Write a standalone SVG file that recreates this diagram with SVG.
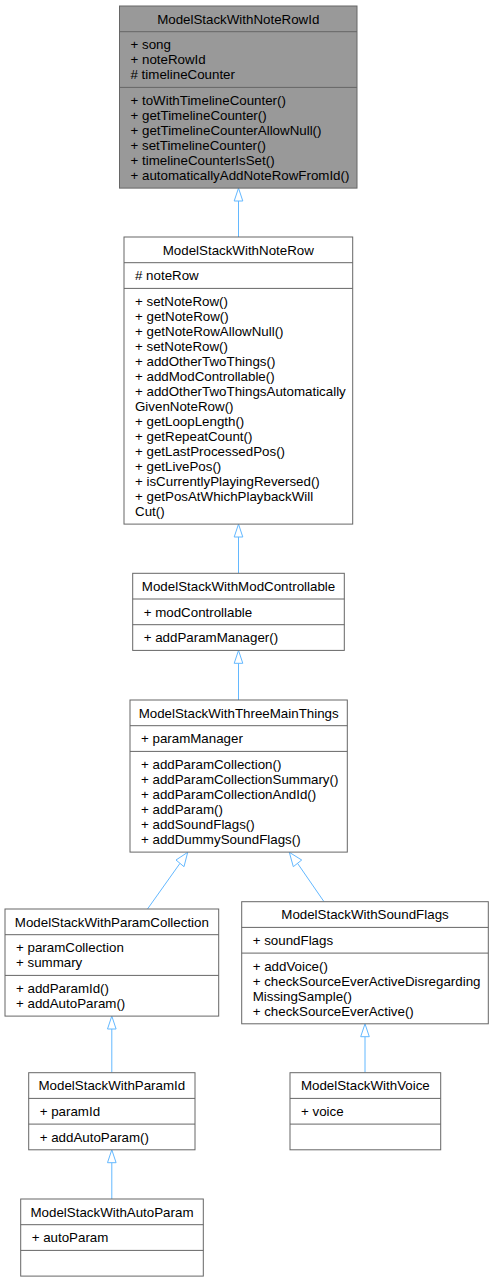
<svg xmlns="http://www.w3.org/2000/svg" width="494" height="1282" viewBox="0 0 494 1282">
<style>
text{font-family:"Liberation Sans",Arial,sans-serif;font-size:13.33px;fill:#000}
.t{text-anchor:middle}
.box{fill:#fff;stroke:#666;stroke-width:1}
.cur{fill:#999;stroke:#666;stroke-width:1}
.sep{stroke:#666;stroke-width:1;fill:none}
.e{stroke:#63b8ff;stroke-width:1;fill:none}
.a{stroke:#63b8ff;stroke-width:1;fill:#fff}
</style>
<rect width="494" height="1282" fill="#fff"/>
<g id="connectors">
<line class="e" x1="238.5" y1="201" x2="238.5" y2="237"/>
<polygon class="a" points="238.5,188.1 234.2,201 242.8,201"/>
<line class="e" x1="238.5" y1="537" x2="238.5" y2="573.3"/>
<polygon class="a" points="238.5,524.1 234.2,537 242.8,537"/>
<line class="e" x1="238.5" y1="663.3" x2="238.5" y2="700"/>
<polygon class="a" points="238.5,650.4 234.2,663.3 242.8,663.3"/>
<line class="e" x1="180" y1="863.3" x2="147.5" y2="909"/>
<polygon class="a" points="187.7,852.3 176,860 184,866.7"/>
<line class="e" x1="297.5" y1="863.3" x2="324" y2="901.7"/>
<polygon class="a" points="289.3,852.3 293.3,866.7 301.7,860"/>
<line class="e" x1="111.8" y1="1029" x2="111.8" y2="1072.7"/>
<polygon class="a" points="111.8,1016.1 107.5,1029 116.1,1029"/>
<line class="e" x1="365" y1="1036.7" x2="365" y2="1072.7"/>
<polygon class="a" points="365,1023.8 360.7,1036.7 369.3,1036.7"/>
<line class="e" x1="111.8" y1="1162.7" x2="111.8" y2="1199"/>
<polygon class="a" points="111.8,1149.8 107.5,1162.7 116.1,1162.7"/>
</g>
<g id="ModelStackWithNoteRowId">
<rect class="cur" x="119.5" y="6" width="237.5" height="182.1"/>
<path class="sep" d="M119.5,31.7H357M119.5,87.4H357"/>
<text class="t" x="238.25" y="23.7">ModelStackWithNoteRowId</text>
<text x="130.5" y="49.4">+ song</text>
<text x="130.5" y="64.4">+ noteRowId</text>
<text x="130.5" y="79.4"># timelineCounter</text>
<text x="130.5" y="105.1">+ toWithTimelineCounter()</text>
<text x="130.5" y="120.1">+ getTimelineCounter()</text>
<text x="130.5" y="135.1">+ getTimelineCounterAllowNull()</text>
<text x="130.5" y="150.1">+ setTimelineCounter()</text>
<text x="130.5" y="165.1">+ timelineCounterIsSet()</text>
<text x="130.5" y="180.1">+ automaticallyAddNoteRowFromId()</text>
</g>
<g id="ModelStackWithNoteRow">
<rect class="box" x="124" y="237" width="228.7" height="287.1"/>
<path class="sep" d="M124,262.7H352.7M124,288.4H352.7"/>
<text class="t" x="238.3" y="254.7">ModelStackWithNoteRow</text>
<text x="135" y="280.4"># noteRow</text>
<text x="135" y="306.1">+ setNoteRow()</text>
<text x="135" y="321.1">+ getNoteRow()</text>
<text x="135" y="336.1">+ getNoteRowAllowNull()</text>
<text x="135" y="351.1">+ setNoteRow()</text>
<text x="135" y="366.1">+ addOtherTwoThings()</text>
<text x="135" y="381.1">+ addModControllable()</text>
<text x="135" y="396.1">+ addOtherTwoThingsAutomatically</text>
<text x="135" y="411.1">GivenNoteRow()</text>
<text x="135" y="426.1">+ getLoopLength()</text>
<text x="135" y="441.1">+ getRepeatCount()</text>
<text x="135" y="456.1">+ getLastProcessedPos()</text>
<text x="135" y="471.1">+ getLivePos()</text>
<text x="135" y="486.1">+ isCurrentlyPlayingReversed()</text>
<text x="135" y="501.1">+ getPosAtWhichPlaybackWill</text>
<text x="135" y="516.1">Cut()</text>
</g>
<g id="ModelStackWithModControllable">
<rect class="box" x="132.7" y="573.3" width="211.6" height="77.1"/>
<path class="sep" d="M132.7,599H344.3M132.7,624.7H344.3"/>
<text class="t" x="238.5" y="591">ModelStackWithModControllable</text>
<text x="143.7" y="616.7">+ modControllable</text>
<text x="143.7" y="642.4">+ addParamManager()</text>
</g>
<g id="ModelStackWithThreeMainThings">
<rect class="box" x="130" y="700" width="217.3" height="152.1"/>
<path class="sep" d="M130,725.7H347.3M130,751.4H347.3"/>
<text class="t" x="238.65" y="717.7">ModelStackWithThreeMainThings</text>
<text x="141" y="743.4">+ paramManager</text>
<text x="141" y="769.1">+ addParamCollection()</text>
<text x="141" y="784.1">+ addParamCollectionSummary()</text>
<text x="141" y="799.1">+ addParamCollectionAndId()</text>
<text x="141" y="814.1">+ addParam()</text>
<text x="141" y="829.1">+ addSoundFlags()</text>
<text x="141" y="844.1">+ addDummySoundFlags()</text>
</g>
<g id="ModelStackWithParamCollection">
<rect class="box" x="5" y="909" width="213.7" height="107.1"/>
<path class="sep" d="M5,934.7H218.7M5,975.4H218.7"/>
<text class="t" x="111.85" y="926.7">ModelStackWithParamCollection</text>
<text x="16" y="952.4">+ paramCollection</text>
<text x="16" y="967.4">+ summary</text>
<text x="16" y="993.1">+ addParamId()</text>
<text x="16" y="1008.1">+ addAutoParam()</text>
</g>
<g id="ModelStackWithSoundFlags">
<rect class="box" x="241.7" y="901.7" width="246.6" height="122.1"/>
<path class="sep" d="M241.7,927.4H488.3M241.7,953.1H488.3"/>
<text class="t" x="365" y="919.4">ModelStackWithSoundFlags</text>
<text x="252.7" y="945.1">+ soundFlags</text>
<text x="252.7" y="970.8">+ addVoice()</text>
<text x="252.7" y="985.8">+ checkSourceEverActiveDisregarding</text>
<text x="252.7" y="1000.8">MissingSample()</text>
<text x="252.7" y="1015.8">+ checkSourceEverActive()</text>
</g>
<g id="ModelStackWithParamId">
<rect class="box" x="28.7" y="1072.7" width="166.3" height="77.1"/>
<path class="sep" d="M28.7,1098.4H195M28.7,1124.1H195"/>
<text class="t" x="111.85" y="1090.4">ModelStackWithParamId</text>
<text x="39.7" y="1116.1">+ paramId</text>
<text x="39.7" y="1141.8">+ addAutoParam()</text>
</g>
<g id="ModelStackWithVoice">
<rect class="box" x="290" y="1072.7" width="150.7" height="77.1"/>
<path class="sep" d="M290,1098.4H440.7M290,1124.1H440.7"/>
<text class="t" x="365.35" y="1090.4">ModelStackWithVoice</text>
<text x="301" y="1116.1">+ voice</text>
</g>
<g id="ModelStackWithAutoParam">
<rect class="box" x="20.7" y="1199" width="182.6" height="77.1"/>
<path class="sep" d="M20.7,1224.7H203.3M20.7,1250.4H203.3"/>
<text class="t" x="112" y="1216.7">ModelStackWithAutoParam</text>
<text x="31.7" y="1242.4">+ autoParam</text>
</g>
</svg>
